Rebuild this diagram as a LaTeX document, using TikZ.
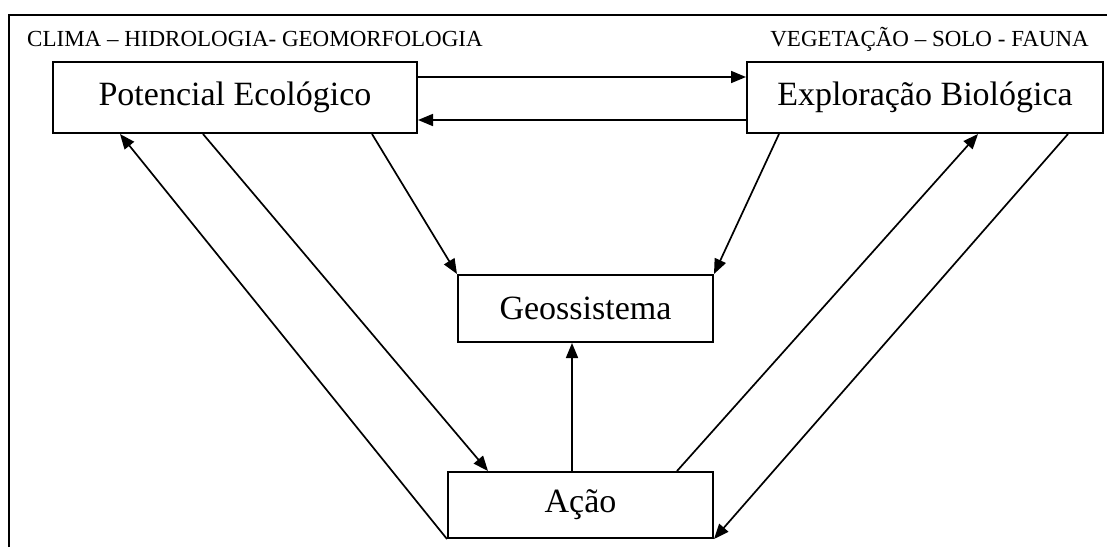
\documentclass[tikz,border=0pt]{standalone}
\usepackage{fontspec}
\setmainfont{Liberation Serif}
\usetikzlibrary{arrows.meta}
\begin{document}
\begin{tikzpicture}[x=1pt,y=-1pt,
  box/.style={draw,line width=2pt,rectangle,inner sep=0pt,font=\fontsize{34}{40}\selectfont},
  arr/.style={line width=1.7pt,-{Triangle[length=15pt,width=12pt]}},
  toplabel/.style={inner sep=0pt,font=\fontsize{23}{26}\selectfont}]
\useasboundingbox (0,0) rectangle (1107,547);
\draw[line width=2pt] (9,547) -- (9,15) -- (1107,15);
\node[toplabel,anchor=base west] (lt) at (27,46) {CLIMA -- HIDROLOGIA- GEOMORFOLOGIA};
\node[toplabel,anchor=base east] (rt) at (1089,46) {VEGETAÇÃO -- SOLO - FAUNA};
\node[box,minimum width=364pt,minimum height=71pt] (pe) at (235,97.5) {Potencial Ecológico};
\node[box,minimum width=356pt,minimum height=71pt] (eb) at (925,97.5) {Exploração Biológica};
\node[box,minimum width=255pt,minimum height=67pt] (geo) at (585.5,308.5) {Geossistema};
\node[box,minimum width=265pt,minimum height=66pt] (acao) at (580.5,505) {Ação};
\draw[arr] ([yshift=20.5pt]pe.east) -- ([yshift=20.5pt]pe.east -| eb.west);
\draw[arr] ([yshift=-22.5pt]eb.west) -- ([yshift=-22.5pt]eb.west -| pe.east);
\draw[arr] ([xshift=137pt]pe.south) -- (geo.north west);
\draw[arr] ([xshift=-146pt]eb.south) -- (geo.north east);
\draw[arr] ([xshift=-8.5pt]acao.north) -- ([xshift=-8.5pt]acao.north |- geo.south);
\draw[arr] ([xshift=-32pt]pe.south) -- ([xshift=-92.5pt]acao.north);
\draw[arr] (acao.south west) -- ([xshift=-115pt]pe.south);
\draw[arr] ([xshift=96.5pt]acao.north) -- ([xshift=53pt]eb.south);
\draw[arr] ([xshift=143pt]eb.south) -- (acao.south east);
\end{tikzpicture}
\end{document}
